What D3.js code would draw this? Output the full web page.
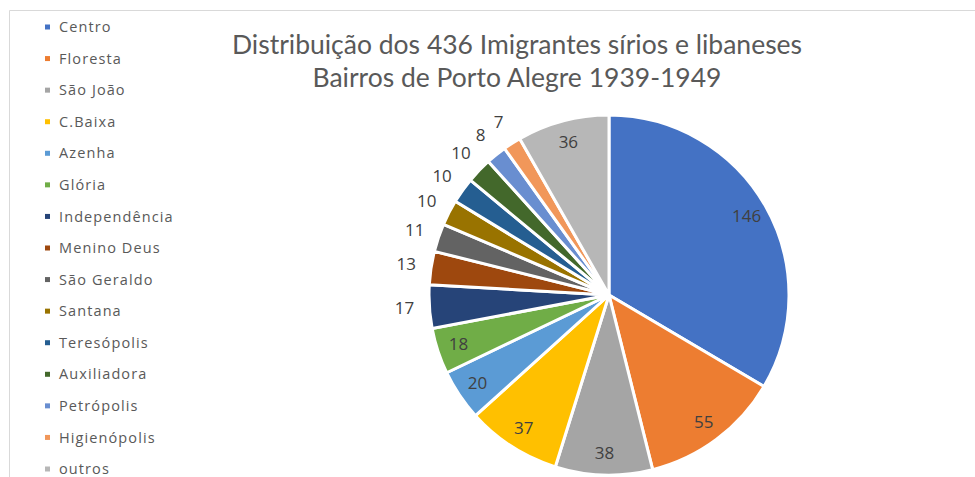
<!DOCTYPE html>
<html>
<head>
<meta charset="utf-8">
<script src="https://cdn.jsdelivr.net/npm/d3@7"></script>
<style>
  body { margin: 0; background: #fff; }
  .legendText { font-family: "Open Sans", "Noto Sans", sans-serif; font-size: 14.5px; letter-spacing: 1.1px; fill: #595959; }
  .sliceLabel { font-family: "Open Sans", "Noto Sans", sans-serif; font-size: 17px; fill: #404040; }
  .titleText { font-family: Lato, "Open Sans", sans-serif; font-size: 26.5px; fill: #595959; }
</style>
</head>
<body>
<div id="chart"></div>
<script>
// bairros and number of immigrants, clockwise from 12 o'clock
const bairros = ['Centro', 'Floresta', 'São João', 'C.Baixa', 'Azenha', 'Glória', 'Independência',
  'Menino Deus', 'São Geraldo', 'Santana', 'Teresópolis', 'Auxiliadora', 'Petrópolis', 'Higienópolis', 'outros'];
const imigrantes = [146, 55, 38, 37, 20, 18, 17, 13, 11, 10, 10, 10, 8, 7, 36];
const cores = ['#4472C4', '#ED7D31', '#A5A5A5', '#FFC000', '#5B9BD5', '#70AD47', '#264478',
  '#9E480E', '#636363', '#997300', '#255E91', '#43682B', '#698ED0', '#F1975A', '#B7B7B7'];
const titulo = ['Distribuição dos 436 Imigrantes sírios e libaneses', 'Bairros de Porto Alegre 1939-1949'];

const width = 975, height = 477;
const cx = 609, cy = 295, radius = 180;

const svg = d3.select('#chart').append('svg')
  .attr('width', width)
  .attr('height', height);

// chart area frame (only top and left edges visible)
svg.append('path')
  .attr('d', `M9.5,${height} L9.5,10.5 L${width},10.5`)
  .attr('fill', 'none')
  .attr('stroke', '#d9d9d9');

// title
svg.append('text')
  .attr('class', 'titleText')
  .attr('text-anchor', 'middle')
  .selectAll('tspan')
  .data(titulo)
  .join('tspan')
  .attr('x', 517)
  .attr('y', (d, i) => 54 + i * 33)
  .text(d => d);

// legend
const legendY = d3.scalePoint().domain(bairros).range([27, 469]);
const legend = svg.append('g');
const item = legend.selectAll('g')
  .data(bairros)
  .join('g')
  .attr('transform', d => `translate(45,${legendY(d)})`);
item.append('rect')
  .attr('x', 0).attr('y', -2.5)
  .attr('width', 5).attr('height', 5)
  .attr('fill', (d, i) => cores[i]);
item.append('text')
  .attr('class', 'legendText')
  .attr('x', 14).attr('dy', '0.35em')
  .text(d => d);

// pie
const color = d3.scaleOrdinal().domain(bairros).range(cores);
const data = bairros.map((b, i) => ({bairro: b, valor: imigrantes[i]}));
const pie = d3.pie().value(d => d.valor).sort(null);
const arcs = pie(data);
const arc = d3.arc().innerRadius(0).outerRadius(radius);

const g = svg.append('g').attr('transform', `translate(${cx},${cy})`);

g.selectAll('path.slice')
  .data(arcs)
  .join('path')
  .attr('class', 'slice')
  .attr('d', arc)
  .attr('fill', d => color(d.data.bairro))
  .attr('stroke', '#fff')
  .attr('stroke-width', 3)
  .attr('stroke-linejoin', 'round');

// labels: inside for big slices, outside for small ones
const insideArc = d3.arc().innerRadius(radius * 0.88).outerRadius(radius * 0.88);
const outsideArc = d3.arc().innerRadius(radius + 25).outerRadius(radius + 25);
const isInside = d => d.data.valor >= 18;

g.selectAll('text.sliceLabel')
  .data(arcs)
  .join('text')
  .attr('class', 'sliceLabel')
  .attr('text-anchor', 'middle')
  .attr('dy', '0.35em')
  .attr('transform', d => `translate(${(isInside(d) ? insideArc : outsideArc).centroid(d)})`)
  .text(d => d.data.valor);
</script>
</body>
</html>
